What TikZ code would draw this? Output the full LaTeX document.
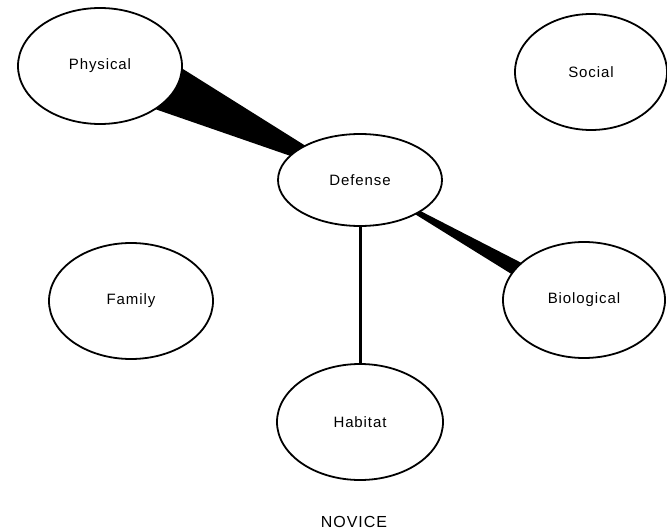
\documentclass[tikz,border=0pt]{standalone}
\usepackage{fontspec}
\setmainfont{Liberation Sans}[LetterSpace=6]
\usetikzlibrary{shapes.geometric,calc,backgrounds}
\tikzset{
  topic/.style={ellipse,draw,line width=1.8pt,fill=white,inner sep=0pt,
    minimum width=164pt,minimum height=116pt,font=\fontsize{15}{18}\selectfont},
  caption/.style={font=\fontsize{16}{19}\selectfont}
}
\begin{document}
\begin{tikzpicture}[x=1pt,y=-1pt]
      \useasboundingbox (0,0) rectangle (667,530);
      \draw
        (100,66) node[topic] (phys){Physical}
        (591,72) node[topic,minimum width=152pt] (soc){Social}
        (360,180) node[topic,minimum height=92pt] (def){Defense}
        (131,301) node[topic] (fam){Family}
        (584,300) node[topic,minimum width=162pt] (bio){Biological}
        (360,422) node[topic,minimum width=166pt] (hab){Habitat};
      \node[caption] (nov) at (354,522) {NOVICE};
      \begin{scope}[on background layer]
        \fill ($(phys.center)+(0,-49)$) -- (def.center) -- ($(phys.center)+(0,24)$) -- cycle;
        \fill ($(bio.center)+(0,-5)$) -- (def.center) -- ($(bio.center)+(0,19)$) -- cycle;
        \draw[line width=3pt] (def) to (hab);
      \end{scope}
    \end{tikzpicture}
\end{document}
